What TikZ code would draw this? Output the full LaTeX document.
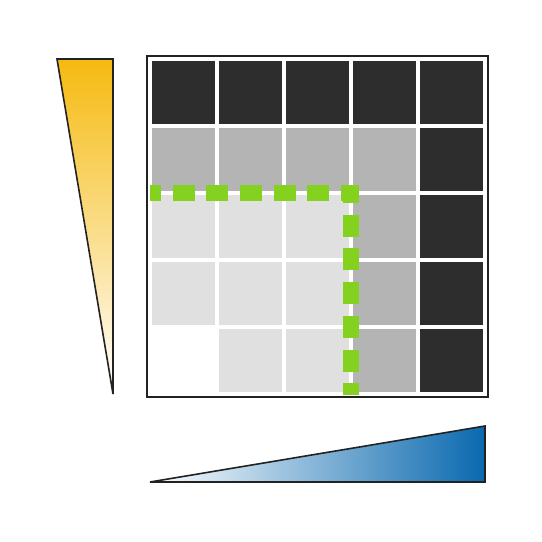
\documentclass[tikz,border=0pt]{standalone}
\usetikzlibrary{calc}
\definecolor{cdark}{HTML}{2D2D2D}
\definecolor{cgray}{HTML}{B4B4B4}
\definecolor{clight}{HTML}{E0E0E0}
\definecolor{cframe}{HTML}{222222}
\definecolor{cgreen}{HTML}{84D120}
\definecolor{cyellow}{HTML}{F5BA10}
\definecolor{cblue}{HTML}{0A69AF}
\tikzset{
  cell/.style={fill=#1, draw=none},
  outline/.style={draw=cframe, line width=1.6pt, line join=miter},
  greendash/.style={draw=cgreen, line width=16.5pt, line cap=butt, dash pattern=on 22pt off 11.7pt, dash phase=4pt}
}
\begin{document}
\begin{tikzpicture}[x=1pt,y=-1pt]
\useasboundingbox (0,0) rectangle (542,542);
% grid cells
\foreach \r/\cols in {0/{cdark,cdark,cdark,cdark,cdark},
                      1/{cgray,cgray,cgray,cgray,cdark},
                      2/{clight,clight,clight,cgray,cdark},
                      3/{clight,clight,clight,cgray,cdark},
                      4/{white,clight,clight,cgray,cdark}}{
  \foreach \c [count=\i from 0] in \cols {
    \fill[cell=\c] ({152+67*\i},{61+67*\r}) rectangle ++(63,63);
  }
}
% frame
\draw[outline] (147,56) rectangle (488,397);
% green dashed boundary
\coordinate (corner) at (351,193);
\draw[greendash] (359,193) -- (150,193);
\draw[greendash] (351,185) -- (351,395);
% yellow triangle
\shade[top color=cyellow, middle color=cyellow!45!white, bottom color=white] (57,59) -- (113,59) -- (113,394) -- cycle;
\draw[outline] (57,59) -- (113,59) -- (113,394) -- cycle;
% blue triangle
\shade[left color=white, middle color=cblue!30!white, right color=cblue] (150,482) -- (485,482) -- (485,426) -- cycle;
\draw[outline] (150,482) -- (485,482) -- (485,426) -- cycle;
\end{tikzpicture}
\end{document}
